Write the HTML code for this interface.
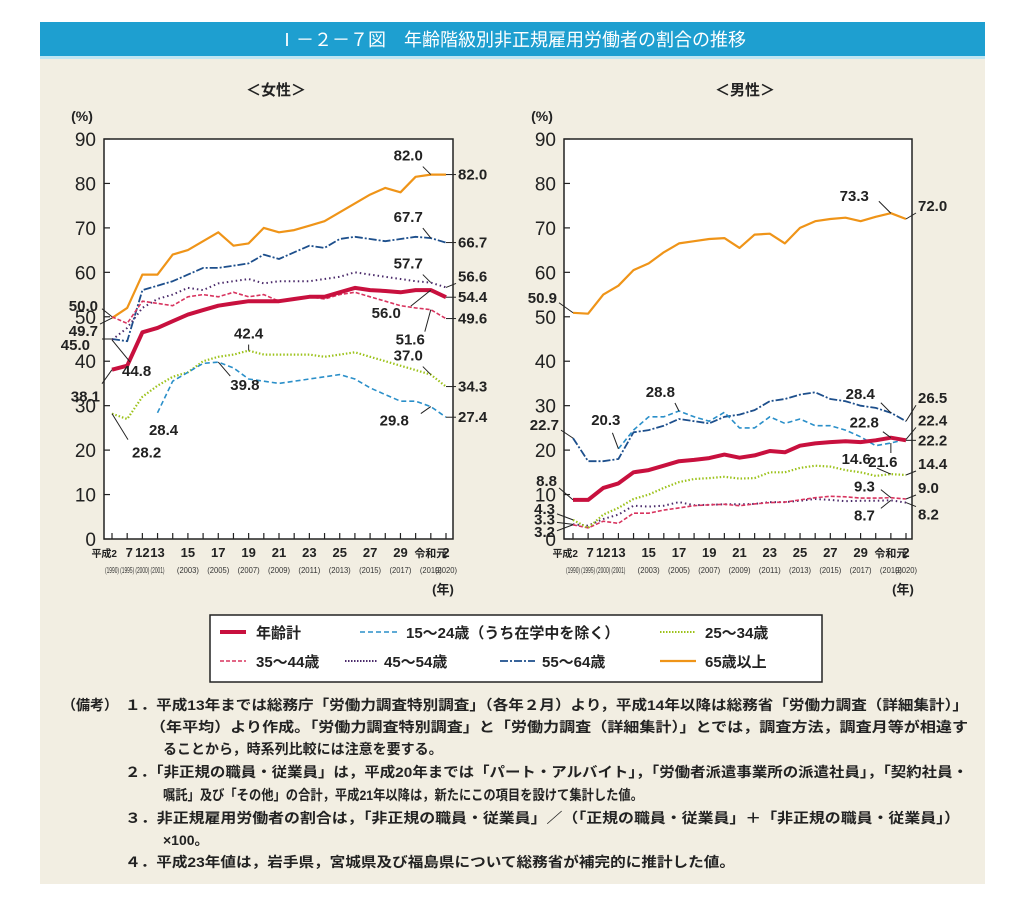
<!DOCTYPE html>
<html><head><meta charset="utf-8">
<style>
html,body{margin:0;padding:0;background:#fff;}
svg{display:block;font-family:"Liberation Sans","Noto Sans CJK JP",sans-serif;}
</style></head>
<body>
<svg id="root" width="1024" height="913" viewBox="0 0 1024 913" xmlns="http://www.w3.org/2000/svg">
<rect x="40" y="22" width="945" height="34" fill="#1e9fd0"/>
<rect x="40" y="56" width="945" height="3" fill="#bfe6f2"/>
<text x="512" y="46" text-anchor="middle" font-size="18" fill="#fff" font-family="Liberation Sans,Noto Sans CJK JP,sans-serif">Ⅰ－２－７図　年齢階級別非正規雇用労働者の割合の推移</text>
<rect x="40" y="59" width="945" height="825" fill="#f2eee2"/>
<text x="276" y="95" text-anchor="middle" font-size="15" font-weight="bold" fill="#222">＜女性＞</text>
<text x="745" y="95" text-anchor="middle" font-size="15" font-weight="bold" fill="#222">＜男性＞</text>
<g id="chartW"></g>
<g id="chartM"></g>

<g>
<rect x="210" y="615" width="612" height="67" fill="#fff" stroke="#222" stroke-width="1.5"/>
<g font-size="15" font-weight="bold" fill="#222">
<line x1="220" y1="632" x2="246" y2="632" stroke="#c8103e" stroke-width="4"/>
<text x="256" y="638">年齢計</text>
<line x1="360" y1="632" x2="398" y2="632" stroke="#2a8fc9" stroke-width="1.6" stroke-dasharray="5,3"/>
<text x="406" y="638">15～24歳（うち在学中を除く）</text>
<line x1="660" y1="632" x2="696" y2="632" stroke="#9cc21a" stroke-width="2" stroke-dasharray="1.5,1.5"/>
<text x="705" y="638">25～34歳</text>
<line x1="220" y1="661" x2="246" y2="661" stroke="#d8345f" stroke-width="1.6" stroke-dasharray="4,2"/>
<text x="256" y="667">35～44歳</text>
<line x1="345" y1="661" x2="377" y2="661" stroke="#4a2a6a" stroke-width="2" stroke-dasharray="1.5,1.5"/>
<text x="384" y="667">45～54歳</text>
<line x1="500" y1="661" x2="535" y2="661" stroke="#1d4f8c" stroke-width="1.8" stroke-dasharray="8,2,2,2"/>
<text x="542" y="667">55～64歳</text>
<line x1="660" y1="661" x2="696" y2="661" stroke="#ef9418" stroke-width="2.2"/>
<text x="705" y="667">65歳以上</text>
</g></g>

<g font-size="14" font-weight="bold" fill="#222">
<text x="62" y="710">（備考）</text>
<text x="125" y="710" textLength="843" lengthAdjust="spacingAndGlyphs">１．平成13年までは総務庁「労働力調査特別調査」（各年２月）より，平成14年以降は総務省「労働力調査（詳細集計）」</text>
<text x="150" y="732" textLength="818" lengthAdjust="spacingAndGlyphs">（年平均）より作成。「労働力調査特別調査」と「労働力調査（詳細集計）」とでは，調査方法，調査月等が相違す</text>
<text x="163" y="754">ることから，時系列比較には注意を要する。</text>
<text x="125" y="777" textLength="843" lengthAdjust="spacingAndGlyphs">２．「非正規の職員・従業員」は，平成20年までは「パート・アルバイト」，「労働者派遣事業所の派遣社員」，「契約社員・</text>
<text x="163" y="800" textLength="480" lengthAdjust="spacingAndGlyphs">嘱託」及び「その他」の合計，平成21年以降は，新たにこの項目を設けて集計した値。</text>
<text x="125" y="823" textLength="835" lengthAdjust="spacingAndGlyphs">３．非正規雇用労働者の割合は，「非正規の職員・従業員」／（「正規の職員・従業員」＋「非正規の職員・従業員」）</text>
<text x="163" y="845">×100。</text>
<text x="125" y="867" textLength="610" lengthAdjust="spacingAndGlyphs">４．平成23年値は，岩手県，宮城県及び福島県について総務省が補完的に推計した値。</text>
</g>
</svg>
<script>
const tickVals=[0,10,20,30,40,50,60,70,80,90];
const xTop=['平成2','7','12','13','','15','','17','','19','','21','','23','','25','','27','','29','','令和元','2'];
const xBot=['(1990)','(1995)','(2000)','(2001)','','(2003)','','(2005)','','(2007)','','(2009)','','(2011)','','(2013)','','(2015)','','(2017)','','(2019)','(2020)'];
const wTotal=[38.1,39,46.5,47.5,49,50.5,51.5,52.5,53,53.5,53.5,53.5,54,54.5,54.5,55.5,56.5,56,55.8,55.5,56,56.0,54.4];
const w1524=[null,null,null,28.4,35.5,37.5,39.5,39.8,38.5,36,35.5,35,35.5,36,36.5,37,36,34,32.5,31,31,29.8,27.4];
const w2534=[28.2,27,32,34.5,36.5,37.5,40,41,41.5,42.4,41.5,41.5,41.5,41.5,41,41.5,42,41,40,39,38,37.0,34.3];
const w3544=[50.0,48.5,53.5,53,52.5,54.5,55,54.5,55.5,54.5,55,53.5,54,54.5,54,55,55.5,54.5,53.5,52.5,52,51.6,49.6];
const w4554=[44.8,47.5,52,54,55,56.5,56,57.5,58,58.5,57.5,58,58,58,58.5,59,60,59.5,59,58.5,58,57.7,56.6];
const w5564=[45.0,44.5,56,57,58,59.5,61,61,61.5,62,64,63,64.5,66,65.5,67.5,68,67.5,67,67.5,68,67.7,66.7];
const w65=[49.7,52,59.5,59.5,64,65,67,69,66,66.5,70,69,69.5,70.5,71.5,73.5,75.5,77.5,79,78,81.5,82.0,82.0];
const mTotal=[8.8,8.8,11.5,12.5,15,15.5,16.5,17.5,17.8,18.2,19,18.3,18.8,19.8,19.5,21,21.5,21.8,22,21.8,22.2,22.8,22.2];
const m1524=[null,null,null,20.3,24.5,27.5,27.5,28.8,27.5,26.5,28.5,25,25,27.5,26,27,25.5,25.5,24.5,23,21,21.6,22.4];
const m2534=[4.3,2.5,5.5,7,9,10,11.5,12.8,13.5,13.7,14,13.6,13.7,15,15,16,16.5,16.3,15.5,15,14.2,14.6,14.4];
const m3544=[3.2,2.5,4,3.5,5.8,5.8,6.5,7,7.5,7.7,7.8,7.5,7.9,8.2,8.3,8.8,9.3,9.6,9.5,9.2,9.2,9.3,9.0];
const m4554=[3.3,3,4.5,5.5,7.5,7.3,7.5,8.3,7.6,7.7,7.8,7.8,7.9,8.3,8.3,8.6,9.0,8.8,8.5,8.6,8.6,8.7,8.2];
const m5564=[22.7,17.5,17.5,18,24,24.5,25.5,27,26.5,26,27.5,28,29,31,31.5,32.5,33,31.5,31,30,29.5,28.4,26.5];
const m65=[50.9,50.7,55,57,60.5,62,64.5,66.5,67,67.5,67.7,65.5,68.5,68.7,66.5,70,71.5,72,72.3,71.5,72.5,73.3,72.0];

const NS='http://www.w3.org/2000/svg';
function mk(parent,tag,attrs){const e=document.createElementNS(NS,tag);for(const k in attrs)e.setAttribute(k,attrs[k]);parent.appendChild(e);return e;}
const styles={
 s65:{stroke:'#ef9418',w:2.2,d:''},
 s5564:{stroke:'#1d4f8c',w:1.8,d:'8,2,2,2'},
 s4554:{stroke:'#4a2a6a',w:2,d:'1.5,3'},
 s3544:{stroke:'#d8345f',w:1.6,d:'4,2'},
 s2534:{stroke:'#9cc21a',w:2.2,d:'1.5,2'},
 s1524:{stroke:'#2a8fc9',w:1.6,d:'5,3'},
 total:{stroke:'#c8103e',w:4,d:''}
};
function drawChart(g,box,series,labels){
 const x0=box.x0,x1=box.x1,yTop=139,yBot=539;
 const firstX=box.fx,lastX=box.lx;
 const xS=i=>firstX+i*(lastX-firstX)/(xTop.length-1);
 const yS=v=>yBot-(v/90)*(yBot-yTop);
 const plot=mk(g,'rect',{x:x0,y:yTop,width:x1-x0,height:yBot-yTop,fill:'#fff',stroke:'#222','stroke-width':1.5});
 
 
 const pu=mk(g,'text',{x:x0-22,y:121,'font-size':14,'font-weight':'bold','text-anchor':'middle',fill:'#222'});
 pu.textContent='(%)';
 
 
 tickVals.forEach(v=>{
  const y=yS(v);
  const t=mk(g,'line',{x1:x0,x2:x0+6,y1:y,y2:y,stroke:'#222','stroke-width':1.2});
  
  
  const l=mk(g,'text',{x:x0-8,y:y+7,'font-size':19,'text-anchor':'end',fill:'#222'});
  l.textContent=v;
  
  
 });
 xTop.forEach((s,i)=>{
  const x=xS(i);
  const t=mk(g,'line',{x1:x,x2:x,y1:yBot,y2:yBot-6,stroke:'#222','stroke-width':1.2});
  
  
  if(s){
   let lx=x,anc='middle',fs=s.length>2?11:13;
   if(i===0){lx=x+5;anc='end';fs=10;}
   if(i===1){lx=x+2;}
   const l=mk(g,'text',{x:lx,y:557,'font-size':fs,'font-weight':'bold','text-anchor':anc,fill:'#222'});
   l.textContent=s;
   
   
   const b=mk(g,'text',{x:x,y:573,'font-size':8,'text-anchor':'middle',fill:'#333',textLength:i<4?14:22,lengthAdjust:'spacingAndGlyphs'});
   b.textContent=xBot[i];
   
   
  }
 });
 const yu=mk(g,'text',{x:lastX-3,y:594,'font-size':13,'font-weight':'bold','text-anchor':'middle',fill:'#222'});
 yu.textContent='(年)';
 
 
 series.forEach(sr=>{
  const st=styles[sr.k];let d='';let pen=false;
  sr.v.forEach((v,i)=>{if(v==null){pen=false;return;}d+=(pen?'L':'M')+xS(i).toFixed(1)+','+yS(v).toFixed(1);pen=true;});
  const p=mk(g,'path',{d:d,fill:'none',stroke:st.stroke,'stroke-width':st.w,'stroke-dasharray':st.d,'stroke-linejoin':'round'});
  
  
 });
 labels.forEach(L=>{
  const v=L.s[L.i];const px=xS(L.i),py=yS(v);
  const ln=mk(g,'line',{x1:px,y1:py,x2:px+L.dx,y2:py+L.dy,stroke:'#222','stroke-width':1});
  
  
  const tx=mk(g,'text',{x:px+L.dx+(L.dx>0?2:(L.dx<0?-2:0)),y:py+L.dy+(L.dy>0?13:(L.dy<0?-2:5)),'font-size':15,'font-weight':'bold','text-anchor':L.dx>0?'start':(L.dx<0?'end':'middle'),fill:'#222'});
  if(L.ax!==undefined)tx.setAttribute('x',px+L.dx+L.ax);
  if(L.ay!==undefined)tx.setAttribute('y',py+L.dy+L.ay);
  tx.textContent=v.toFixed(1);
  
  
 });
}
drawChart(document.getElementById('chartW'),{x0:104,x1:453,fx:112,lx:446},
 [{k:'s65',v:w65,name:'65plus'},{k:'s5564',v:w5564,name:'55-64'},{k:'s4554',v:w4554,name:'45-54'},{k:'s3544',v:w3544,name:'35-44'},{k:'s2534',v:w2534,name:'25-34'},{k:'s1524',v:w1524,name:'15-24'},{k:'total',v:wTotal,name:'total'}],
 [{s:w65,i:21,dx:-8,dy:-8,ax:0,ay:-6},{s:w65,i:22,dx:10,dy:0},{s:w5564,i:21,dx:-8,dy:-10,ax:0,ay:-6},{s:w5564,i:22,dx:10,dy:0},
  {s:w4554,i:21,dx:-8,dy:-8,ax:0,ay:-6},{s:w4554,i:22,dx:10,dy:-4},{s:w3544,i:22,dx:10,dy:0},{s:wTotal,i:22,dx:10,dy:0},
  {s:wTotal,i:21,dx:-20,dy:16,ax:-10,ay:12},{s:w3544,i:21,dx:-6,dy:22,ax:0,ay:13},{s:w2534,i:21,dx:-8,dy:-8,ax:0,ay:-6},{s:w2534,i:22,dx:10,dy:0},
  {s:w1524,i:21,dx:-10,dy:7,ax:-12,ay:12},{s:w1524,i:22,dx:10,dy:0},{s:w2534,i:9,dx:0,dy:-6,ax:0,ay:-6},{s:w1524,i:7,dx:12,dy:14,ax:0,ay:14},
  {s:w1524,i:3,dx:0,dy:0,ax:6,ay:22},{s:w2534,i:0,dx:16,dy:26,ax:4,ay:18},{s:wTotal,i:0,dx:-10,dy:14,ax:-2,ay:18},
  {s:w5564,i:0,dx:-10,dy:0,ax:-12,ay:11},{s:w4554,i:0,dx:18,dy:22,ax:-8,ay:14},{s:w3544,i:0,dx:-10,dy:-8,ax:-4,ay:2},{s:w65,i:0,dx:-12,dy:6,ax:-2,ay:12}]);
drawChart(document.getElementById('chartM'),{x0:564,x1:912,fx:573,lx:906},
 [{k:'s65',v:m65,name:'65plus'},{k:'s5564',v:m5564,name:'55-64'},{k:'s4554',v:m4554,name:'45-54'},{k:'s3544',v:m3544,name:'35-44'},{k:'s2534',v:m2534,name:'25-34'},{k:'s1524',v:m1524,name:'15-24'},{k:'total',v:mTotal,name:'total'}],
 [{s:m65,i:21,dx:-12,dy:-12,ax:-10,ay:0},{s:m65,i:22,dx:10,dy:-6},{s:m5564,i:21,dx:-10,dy:-10,ax:-6,ay:-4},{s:m5564,i:22,dx:10,dy:-16},
  {s:m1524,i:22,dx:10,dy:-12},{s:mTotal,i:22,dx:10,dy:0},{s:mTotal,i:21,dx:-8,dy:-6,ax:-4,ay:-4},{s:m1524,i:21,dx:0,dy:10,ax:-8,ay:14},
  {s:m2534,i:21,dx:-14,dy:-6,ax:-6,ay:-4},{s:m2534,i:22,dx:10,dy:-4},{s:m3544,i:21,dx:-10,dy:-8,ax:-6,ay:2},{s:m3544,i:22,dx:10,dy:-4},
  {s:m4554,i:21,dx:-10,dy:8,ax:-6,ay:12},{s:m4554,i:22,dx:10,dy:4},{s:m1524,i:3,dx:-6,dy:-16,ax:8,ay:-8},{s:m1524,i:7,dx:-4,dy:-8,ax:0,ay:-6},
  {s:m5564,i:0,dx:-12,dy:-8,ax:-2,ay:0},{s:m65,i:0,dx:-14,dy:-10,ax:-2,ay:0},{s:mTotal,i:0,dx:-14,dy:-12,ax:-2,ay:-2},
  {s:m2534,i:0,dx:-16,dy:-6,ax:-2,ay:0},{s:m4554,i:0,dx:-16,dy:-2,ax:-2,ay:2},{s:m3544,i:0,dx:-16,dy:6,ax:-2,ay:6}]);
</script>
</body></html>
